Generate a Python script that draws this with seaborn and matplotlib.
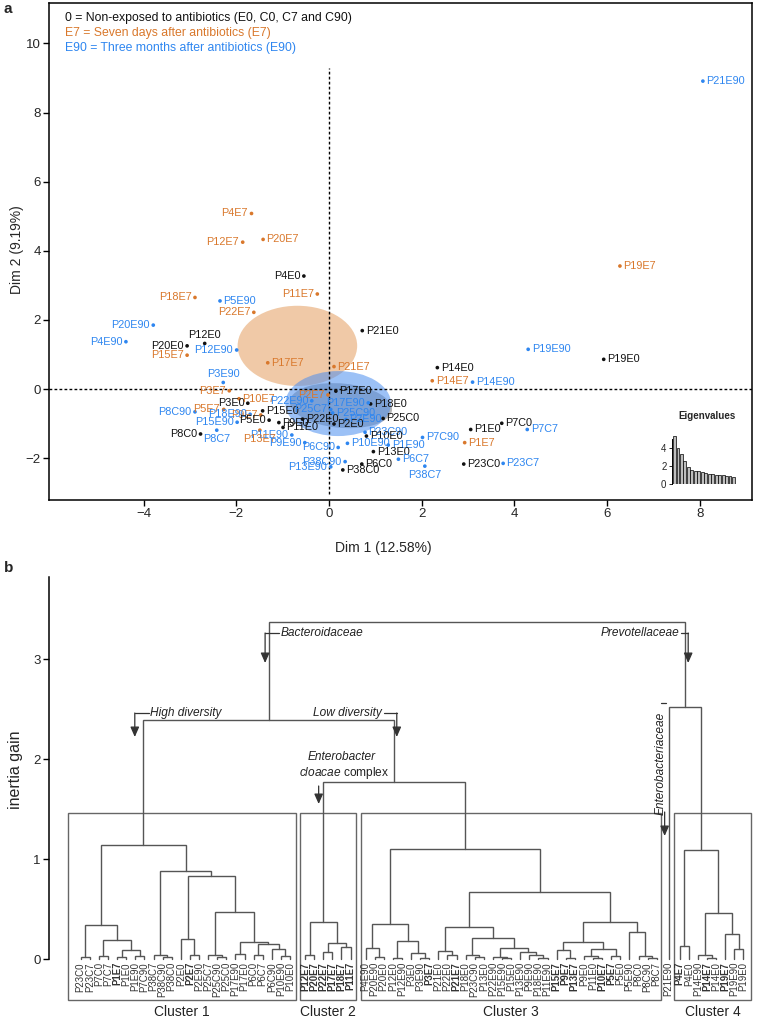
import numpy as np
import pandas as pd
import matplotlib
matplotlib.use("Agg")
import matplotlib.pyplot as plt
from matplotlib.patches import Ellipse, Rectangle
import seaborn as sns

# ---------------- panel a : PCA individuals ----------------
sample_names = [
    "P4E7", "P12E7", "P20E7", "P4E0", "P11E7", "P18E7", "P5E90", "P22E7",
    "P20E90", "P4E90", "P20E0", "P12E0", "P12E90", "P15E7", "P21E0", "P17E7",
    "P21E7", "P3E90", "P17E0", "P3E7", "P2E7", "P3E0", "P10E7", "P22E90",
    "P18E0", "P17E90", "P5E7", "P9E7", "P15E0", "P25C7", "P25C90", "P18E90",
    "P9E0", "P22E0", "P2E0", "P2E90", "P25C0", "P15E90", "P5E0", "P11E0",
    "P8C7", "P8C0", "P8C90", "P11E90", "P13E7", "P9E90", "P6C90", "P23C90",
    "P10E0", "P10E90", "P1E90", "P13E0", "P38C90", "P13E90", "P6C0", "P38C0",
    "P6C7", "P38C7", "P7C90", "P1E7", "P1E0", "P7C0", "P7C7", "P23C0",
    "P23C7", "P14E0", "P14E7", "P14E90", "P19E90", "P19E0", "P19E7", "P21E90",
]
dim1 = [
    -1.67, -1.86, -1.42, -0.54, -0.25, -2.89, -2.35, -1.62,
    -3.79, -4.38, -3.06, -2.68, -1.99, -3.06, 0.72, -1.32,
    0.11, -2.28, 0.15, -2.15, -0.02, -1.75, -1.94, -0.37,
    0.90, 0.85, -2.27, -1.47, -1.43, 0.04, 0.08, -1.70,
    -1.08, -0.57, 0.11, 0.37, 1.17, -1.98, -1.29, -0.99,
    -2.42, -2.77, -2.89, -0.80, -1.49, -0.52, 0.20, 0.78,
    0.81, 0.40, 1.28, 0.96, 0.35, 0.04, 0.71, 0.30,
    1.50, 2.07, 2.02, 2.93, 3.06, 3.73, 4.28, 2.91,
    3.76, 2.34, 2.23, 3.10, 4.30, 5.93, 6.28, 8.07,
]
dim2 = [
    5.08, 4.25, 4.33, 3.27, 2.75, 2.65, 2.55, 2.22,
    1.85, 1.37, 1.25, 1.32, 1.13, 0.98, 1.69, 0.76,
    0.65, 0.19, -0.06, -0.05, -0.17, -0.41, -0.28, -0.34,
    -0.43, -0.40, -0.59, -0.75, -0.63, -0.59, -0.69, -0.73,
    -0.97, -0.87, -1.01, -0.88, -0.85, -0.96, -0.90, -1.11,
    -1.19, -1.30, -0.66, -1.33, -1.19, -1.55, -1.69, -1.25,
    -1.36, -1.57, -1.62, -1.81, -2.10, -2.25, -2.17, -2.34,
    -2.03, -2.23, -1.40, -1.55, -1.17, -0.99, -1.17, -2.17,
    -2.15, 0.62, 0.24, 0.20, 1.15, 0.86, 3.56, 8.91,
]

# confidence ellipses (E7, E90, non-exposed)
ellipse_groups = ["E7", "E90", "0"]
ellipse_cx = [-0.68, 0.20, 0.26]
ellipse_cy = [1.25, -0.42, -0.48]
ellipse_w = [2.58, 2.28, 2.22]
ellipse_h = [2.32, 1.88, 1.28]

eigenvalues = [5.3, 4.0, 3.35, 2.6, 1.85, 1.6, 1.5, 1.4, 1.3, 1.2,
               1.15, 1.1, 1.05, 1.0, 0.95, 0.9, 0.85, 0.8]

legend_lines = [
    "0 = Non-exposed to antibiotics (E0, C0, C7 and C90)",
    "E7 = Seven days after antibiotics (E7)",
    "E90 = Three months after antibiotics (E90)",
]
x_ticks = [-4, -2, 0, 2, 4, 6, 8]
y_ticks = [-2, 0, 2, 4, 6, 8, 10]

# ---------------- panel b : hierarchical clustering ----------------
cluster1_tree = [1.14,
    [0.34, [0.02, "P23C0", "P23C7"],
           [0.19, [0.03, "P7C0", "P7C7"],
                  [0.09, [0.02, "P1E7", "P1E0"], [0.03, "P1E90", "P7C90"]]]],
    [0.88, [0.04, "P38C7", [0.02, "P38C90", "P38C0"]],
           [0.83, [0.20, "P2E0", [0.04, "P2E7", "P2E90"]],
                  [0.47, [0.04, "P25C7", [0.02, "P25C90", "P25C0"]],
                         [0.17, [0.05, "P17E90", "P17E0"],
                                [0.15, [0.04, "P6C0", "P6C7"],
                                       [0.10, "P6C90", [0.03, "P10E90", "P10E0"]]]]]]]]
cluster2_tree = [0.37, [0.04, "P12E7", "P20E7"],
                 [0.16, [0.07, "P22E7", "P17E7"], [0.12, "P18E7", "P11E7"]]]
cluster3_tree = [1.10,
    [0.35, [0.11, "P4E90", [0.02, "P20E90", "P20E0"]],
           [0.18, [0.01, "P12E0", "P12E90"], [0.06, "P3E0", [0.01, "P3E90", "P3E7"]]]],
    [0.67,
        [0.32, [0.08, "P21E0", [0.04, "P22E0", "P21E7"]],
               [0.21, [0.04, "P18E0", [0.02, "P23C90", "P13E0"]],
                      [0.11, [0.02, "P22E90", [0.01, "P15E90", "P15E0"]],
                             [0.07, "P13E90", [0.04, "P9E90", [0.01, "P18E90", "P11E90"]]]]]],
        [0.37, [0.17, [0.09, "P15E7", [0.01, "P9E7", "P13E7"]],
                      [0.10, [0.03, "P9E0", [0.01, "P11E0", "P10E7"]], [0.03, "P5E7", "P5E0"]]],
               [0.27, "P5E90", [0.03, "P8C0", [0.01, "P8C90", "P8C7"]]]]]]
cluster4_tree = [1.09, [0.13, "P4E7", "P4E0"],
                 [0.46, [0.04, "P14E90", [0.01, "P14E7", "P14E0"]],
                        [0.25, "P19E7", [0.10, "P19E90", "P19E0"]]]]
cloacae_height = 1.77
diversity_height = 2.39
entero_height = 2.52
root_height = 3.37
cluster_names = ["Cluster 1", "Cluster 2", "Cluster 3", "Cluster 4"]
b_ticks = [0, 1, 2, 3]

# ---------------- styling ----------------
sns.set_theme(style="white")
plt.rcParams["font.family"] = ["Liberation Sans", "DejaVu Sans"]
plt.rcParams["mathtext.fontset"] = "custom"
plt.rcParams["mathtext.rm"] = "Liberation Sans"
plt.rcParams["mathtext.it"] = "Liberation Sans:italic"

BLACK = "#111111"
ORANGE = "#D9782C"
BLUE = "#2E86F0"
W, H = 763, 1019

fig = plt.figure(figsize=(W / 100, H / 100), dpi=100)


def fx(px):
    return px / W


def fy(py):
    return 1 - py / H


def group_of(name):
    if name.endswith("E7"):
        return "E7"
    if name.endswith("E90") or name.endswith("C7") or name.endswith("C90"):
        return "E90"
    return "0"


palette = {"0": BLACK, "E7": ORANGE, "E90": BLUE}

# ---------- panel a ----------
ax_a = fig.add_axes([fx(49), fy(500), fx(752) - fx(49), fy(3) - fy(500)])
df = pd.DataFrame({"name": sample_names, "dim1": dim1, "dim2": dim2})
df["group"] = df["name"].map(group_of)

ell_colors = {"E7": ("#EBB88A", 0.75), "E90": ("#4C8EEF", 0.55), "0": ("#7A7A7A", 0.55)}
ell_angles = {"E7": 0, "E90": 0, "0": -8}
for g in ["E7", "0", "E90"]:
    i = ellipse_groups.index(g)
    c, a = ell_colors[g]
    ax_a.add_patch(Ellipse((ellipse_cx[i], ellipse_cy[i]), ellipse_w[i], ellipse_h[i],
                           angle=ell_angles[g], facecolor=c, edgecolor="none",
                           alpha=a, zorder=1))

ax_a.axhline(0, color="black", lw=1.0, ls=(0, (2, 1.6)), zorder=2)
ax_a.plot([0, 0], [-3.05, 9.3], color="black", lw=1.0, ls=(0, (2, 1.6)), zorder=2)

sns.scatterplot(data=df, x="dim1", y="dim2", hue="group", palette=palette,
                s=7, linewidth=0, legend=False, ax=ax_a, zorder=3)

label_side = {}
for n in ["P4E7", "P12E7", "P4E0", "P11E7", "P18E7", "P22E7", "P20E90", "P4E90",
          "P20E0", "P12E90", "P15E7", "P3E7", "P2E7", "P3E0", "P22E90", "P17E90",
          "P5E7", "P9E7", "P25C7", "P18E90", "P15E90", "P5E0", "P8C0", "P11E90",
          "P9E90", "P6C90", "P38C90", "P13E90", "P8C90"]:
    label_side[n] = "l"
for n in ["P12E0", "P3E90"]:
    label_side[n] = "a"
for n in ["P13E7", "P8C7", "P38C7"]:
    label_side[n] = "b"
offsets = {"r": ((2.5, 0), "left", "center"), "l": ((-2.5, 0), "right", "center"),
           "a": ((0, 2.5), "center", "bottom"), "b": ((0, -2.5), "center", "top")}
for _, row in df.iterrows():
    off, ha, va = offsets[label_side.get(row["name"], "r")]
    ax_a.annotate(row["name"], (row["dim1"], row["dim2"]), xytext=off,
                  textcoords="offset points", ha=ha, va=va, fontsize=7.8,
                  color=palette[row["group"]], zorder=4)

ax_a.set_xlim(-6.04, 9.13)
ax_a.set_ylim(-3.21, 11.17)
ax_a.set_xticks(x_ticks)
ax_a.set_yticks(y_ticks)
ax_a.set_xticklabels([str(v).replace("-", "\u2212") for v in x_ticks])
ax_a.set_yticklabels([str(v).replace("-", "\u2212") for v in y_ticks])
ax_a.tick_params(direction="out", length=4, width=1, labelsize=9.5, pad=2,
                 bottom=True, left=True, color="black")
for s in ax_a.spines.values():
    s.set_color("black")
    s.set_linewidth(1.1)
ax_a.set_xlabel("Dim 1 (12.58%)", fontsize=10)
ax_a.set_ylabel("Dim 2 (9.19%)", fontsize=10)
ax_a.xaxis.set_label_coords(0.475, -0.082)
ax_a.yaxis.set_label_coords(-0.036, 0.503)

leg_colors = [BLACK, ORANGE, BLUE]
leg_y = [18.3, 33.3, 48.3]
for txt, c, yy in zip(legend_lines, leg_colors, leg_y):
    ax_a.text((65 - 49) / 703, (500 - yy) / 497, txt, transform=ax_a.transAxes,
              fontsize=8.8, color=c, ha="left", va="center")

# eigenvalue inset
ax_e = fig.add_axes([fx(672), fy(484), fx(736) - fx(672), fy(434.5) - fy(484)])
sns.barplot(x=list(range(len(eigenvalues))), y=eigenvalues, color="#BEBEBE",
            edgecolor="black", linewidth=0.5, width=0.8, saturation=1, ax=ax_e)
ax_e.set_ylim(0, 5.5)
ax_e.set_xlim(-0.7, len(eigenvalues) - 0.3)
ax_e.set_yticks([0, 2, 4])
ax_e.set_xticks([])
ax_e.set_xlabel("")
ax_e.set_ylabel("")
for sname in ["top", "right", "bottom"]:
    ax_e.spines[sname].set_visible(False)
ax_e.spines["left"].set_bounds(0, 5)
ax_e.spines["left"].set_linewidth(0.7)
ax_e.spines["left"].set_color("black")
ax_e.patch.set_alpha(0)
ax_e.tick_params(axis="y", direction="out", length=2.5, width=0.7, labelsize=7, pad=1.5, left=True)
fig.text(fx(707), fy(416), "Eigenvalues", fontsize=7, fontweight="bold", ha="center", va="center")

fig.text(fx(4), fy(9), "a", fontsize=11, fontweight="bold", ha="left", va="center")
fig.text(fx(4), fy(568), "b", fontsize=11, fontweight="bold", ha="left", va="center")

# ---------- panel b ----------
ax_b = fig.add_axes([fx(49), 0, 1 - fx(49), fy(560)])
ax_b.set_ylim(-0.6, 3.99)
X0, SP = 80.7, 9.1
ax_b.set_xlim((49 - X0) / SP, (763 - X0) / SP)


def leaves(node):
    if isinstance(node, str):
        return [node]
    return leaves(node[1]) + leaves(node[2])


groups_b = [cluster1_tree, cluster2_tree, cluster3_tree, "P21E90", cluster4_tree]
gap_offsets = [0, 0.65, 1.3, 1.62, 1.82]
leaf_pos = {}
k = 0
for g, sub in enumerate(groups_b):
    for nm in leaves(sub):
        leaf_pos[nm] = k + gap_offsets[g]
        k += 1

cloacae_node = [cloacae_height, cluster2_tree, cluster3_tree]
diversity_node = [diversity_height, cluster1_tree, cloacae_node]
entero_node = [entero_height, "P21E90", cluster4_tree]
root = [root_height, diversity_node, entero_node]

LINE = "#555555"


def node_x(node):
    if isinstance(node, str):
        return leaf_pos[node]
    return (node_x(node[1]) + node_x(node[2])) / 2


def draw(node):
    if isinstance(node, str):
        return leaf_pos[node], 0.0
    h, l, r = node
    xl, hl = draw(l)
    xr, hr = draw(r)
    ax_b.plot([xl, xl, xr, xr], [hl, h, h, hr], color=LINE, lw=1.0,
              solid_joinstyle="miter", zorder=2)
    return (xl + xr) / 2, h


draw(root)

for nm, p in leaf_pos.items():
    ax_b.text(p, -0.03, nm, rotation=90, ha="center", va="top", fontsize=6.9,
              fontweight="bold" if nm.endswith("E7") else "normal", color="#333333")

BOX_TOP, BOX_BOT = 1.457, -0.41
pad_l = [1.45, 0.55, 0.55, 0.6]
pad_r = [0.7, 0.65, 0.45, 0.8]
for ci, sub in enumerate([cluster1_tree, cluster2_tree, cluster3_tree, cluster4_tree]):
    lv = leaves(sub)
    a0 = leaf_pos[lv[0]] - pad_l[ci]
    a1 = leaf_pos[lv[-1]] + pad_r[ci]
    ax_b.add_patch(Rectangle((a0, BOX_BOT), a1 - a0, BOX_TOP - BOX_BOT, fill=False,
                             edgecolor="#666666", lw=1.0, zorder=1))
    ax_b.text((a0 + a1) / 2, -0.53, cluster_names[ci], ha="center", va="center",
              fontsize=10, color="#222222")


def hy(py):
    return (959 - py) / 100


ANN = "#222222"
AFS = 8.6
arrow_kw = dict(arrowstyle="-|>,head_length=0.5,head_width=0.22", color="#333333", lw=0.9,
                shrinkA=0, shrinkB=0)


def hook(x_text_end, x_arrow, y_top, y_tip):
    ax_b.plot([x_text_end, x_arrow], [y_top, y_top], color="#333333", lw=0.9)
    ax_b.annotate("", xy=(x_arrow, y_tip), xytext=(x_arrow, y_top), arrowprops=arrow_kw)


div_x = node_x(diversity_node)
ent_x = node_x(entero_node)
c1_x = node_x(cluster1_tree)
cl_x = node_x(cloacae_node)
c2_x = node_x(cluster2_tree)
p21_x = leaf_pos["P21E90"]

# Bacteroidaceae / Prevotellaceae
ax_b.text(div_x + 1.3, hy(633), "Bacteroidaceae", style="italic", fontsize=AFS,
          ha="left", va="center", color=ANN)
hook(div_x + 1.15, div_x - 0.4, hy(633), hy(663))
ax_b.text(ent_x - 0.6, hy(633), "Prevotellaceae", style="italic", fontsize=AFS,
          ha="right", va="center", color=ANN)
hook(ent_x - 0.45, ent_x + 0.35, hy(633), hy(663))

# High / Low diversity
ax_b.text(c1_x + 0.75, hy(713), "High diversity", style="italic", fontsize=AFS,
          ha="left", va="center", color=ANN)
hook(c1_x + 0.6, c1_x - 0.95, hy(713), hy(737))
ax_b.text(cl_x - 1.3, hy(713), "Low diversity", style="italic", fontsize=AFS,
          ha="right", va="center", color=ANN)
hook(cl_x - 1.15, cl_x + 0.3, hy(713), hy(737))

# Enterobacter cloacae complex
ax_b.text(c2_x + 5.75, hy(757), "Enterobacter", style="italic", fontsize=AFS,
          ha="right", va="center", color=ANN)
ax_b.text(c2_x + 7.3, hy(773), r"$\mathit{cloacae}$ complex", fontsize=AFS,
          ha="right", va="center", color=ANN)
ax_b.annotate("", xy=(c2_x - 0.5, hy(804)), xytext=(c2_x - 0.5, hy(786)), arrowprops=arrow_kw)

# Enterobacteriaceae
ax_b.text(p21_x - 0.85, hy(712), "Enterobacteriaceae", style="italic", fontsize=AFS,
          rotation=90, ha="center", va="top", color=ANN)
ax_b.plot([p21_x - 0.9, p21_x - 0.3], [hy(703), hy(703)], color="#333333", lw=0.9)
ax_b.annotate("", xy=(p21_x - 0.45, hy(836)), xytext=(p21_x - 0.45, hy(812)), arrowprops=arrow_kw)

ax_b.set_yticks(b_ticks)
ax_b.set_xticks([])
for sname in ["top", "right", "bottom"]:
    ax_b.spines[sname].set_visible(False)
ax_b.spines["left"].set_bounds(0, 3.82)
ax_b.spines["left"].set_color("black")
ax_b.spines["left"].set_linewidth(1.1)
ax_b.patch.set_alpha(0)
ax_b.tick_params(axis="y", direction="out", length=4, width=1, labelsize=9.5, pad=2,
                 left=True, color="black")
ax_b.set_ylabel("inertia gain", fontsize=11.5)
ax_b.yaxis.set_label_coords(-0.036, (1019 - 770) / 459)

fig.savefig("out.png", dpi=100)
